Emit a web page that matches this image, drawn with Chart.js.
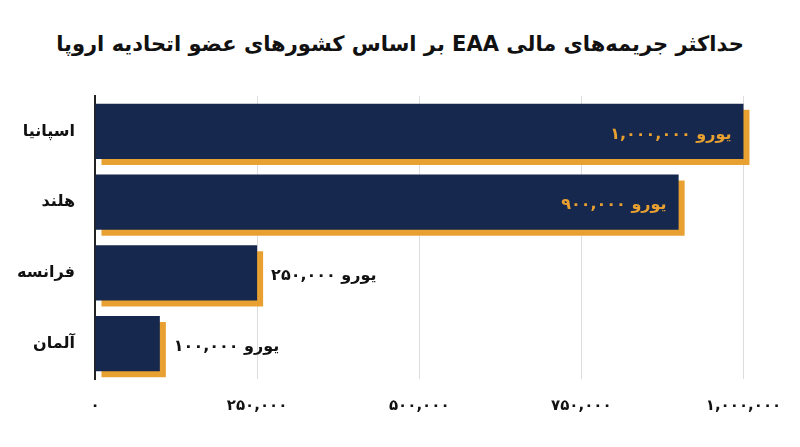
<!DOCTYPE html>
<html><head><meta charset="utf-8">
<script src="https://cdn.jsdelivr.net/npm/chart.js@4"></script>
<style>body{margin:0;background:#fff}#w{width:800px;height:447px;position:relative}
h1{position:absolute;top:32px;left:0;width:800px;margin:0;text-align:center;font:bold 21px "DejaVu Sans";color:#111;direction:rtl}</style>
</head><body><div id="w"><h1>حداکثر جریمه‌های مالی EAA بر اساس کشورهای عضو اتحادیه اروپا</h1>
<canvas id="c" style="position:absolute;top:0;left:0" width="800" height="447"></canvas></div>
<script>
const categories=["اسپانیا","هلند","فرانسه","آلمان"];
const fines=[1000000,900000,250000,100000];
const tickValues=[0,250000,500000,750000,1000000];
const fa=s=>String(s).replace(/\d/g,d=>"۰۱۲۳۴۵۶۷۸۹"[d]);
const fmt=v=>fa(v.toLocaleString('en-US'));
const NAVY="#16284d",ORANGE="#e8a030";
const shadow={id:'shadow',beforeDatasetsDraw(ch){const c=ch.ctx;ch.getDatasetMeta(0).data.forEach(b=>{const h=b.height;c.fillStyle=ORANGE;c.fillRect(b.base+6,b.y-h/2+6,b.x-b.base,h);});},
afterDatasetsDraw(ch){const c=ch.ctx;c.font='bold 16px "DejaVu Sans"';c.textBaseline='middle';c.direction='ltr';c.textAlign='left';
ch.getDatasetMeta(0).data.forEach((b,i)=>{const n=fmt(fines[i]),u=' یورو';const wn=c.measureText(n).width,wu=c.measureText(u).width;
let x0,col;if(fines[i]>=500000){col=ORANGE;x0=b.x-12-wn-wu;}else{col='#111';x0=b.x+14;}
c.fillStyle=col;c.fillText(n,x0,b.y+3);c.fillText(u,x0+wn,b.y+3);});}};
new Chart(document.getElementById('c'),{type:'bar',
data:{labels:categories,datasets:[{data:fines,backgroundColor:NAVY,barPercentage:0.78,categoryPercentage:1}]},
options:{indexAxis:'y',responsive:false,animation:false,
layout:{padding:{top:96,right:24,bottom:14,left:14}},
plugins:{legend:{display:false},tooltip:{enabled:false}},
scales:{x:{min:0,max:1034000,afterBuildTicks:a=>{a.ticks=tickValues.map(v=>({value:v}));},
grid:{color:'#dddddd',drawTicks:false},border:{display:false},
ticks:{padding:18,color:'#111',font:{family:'DejaVu Sans',weight:'bold',size:15},callback:v=>fmt(v)}},
y:{grid:{display:false},border:{color:'#222',width:2},afterFit:a=>{a.width=81;},ticks:{padding:12,color:'#111',font:{family:'DejaVu Sans',weight:'bold',size:16}}}}},
plugins:[shadow]});
</script></body></html>
